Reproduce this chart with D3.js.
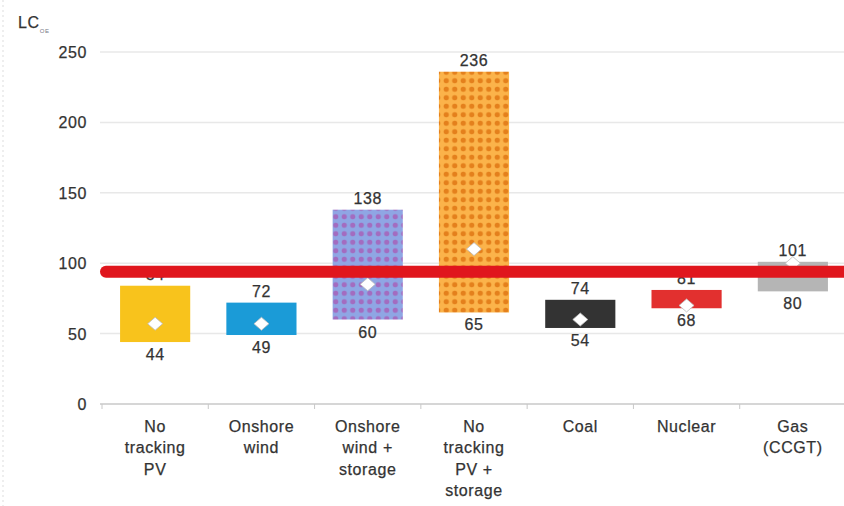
<!DOCTYPE html>
<html><head><meta charset="utf-8">
<script src="https://cdn.jsdelivr.net/npm/d3@7"></script>
<style>body{margin:0;background:#fff}svg{display:block}text{font-family:"Liberation Sans",Arial,sans-serif;letter-spacing:0.6px}</style>
</head><body><svg id="c" width="844" height="506"></svg>
<script>
const categories = [["No","tracking","PV"],["Onshore","wind"],["Onshore","wind +","storage"],["No","tracking","PV +","storage"],["Coal"],["Nuclear"],["Gas","(CCGT)"]];
const lowValues = [44, 49, 60, 65, 54, 68, 80];
const highValues = [84, 72, 138, 236, 74, 81, 101];
const midValues = [57, 57, 85, 110, 60, 70, 100];
const yTicks = [0, 50, 100, 150, 200, 250];
const refValue = 94;
const fills = ["#f8c31c", "#1b9bd7", "url(#dotsPurple)", "url(#dotsOrange)", "#333333", "#e2302f", "#b5b5b5"];

const svg = d3.select("#c");
const defs = svg.append("defs");
function dots(id, bg, dot){
  const p = defs.append("pattern").attr("id", id).attr("patternUnits","userSpaceOnUse").attr("width",8.5).attr("height",8.5);
  p.append("rect").attr("width",8.5).attr("height",8.5).attr("fill",bg);
  p.append("circle").attr("cx",4.25).attr("cy",4.25).attr("r",2.6).attr("fill",dot);
}
dots("dotsPurple", "#8fa6e4", "#a36cc0");
dots("dotsOrange", "#fbb34a", "#e4801c");

const x = d3.scaleBand().domain(d3.range(categories.length)).range([102, 846]).paddingInner(0.34).paddingOuter(0.17);
const y = d3.scaleLinear().domain([0, 250]).range([404, 52]);

svg.append("line").attr("x1",3).attr("x2",3).attr("y1",0).attr("y2",506).attr("stroke","#ddd").attr("stroke-dasharray","2,3");

svg.append("g").selectAll("line").data(yTicks.filter(d=>d>0)).join("line")
  .attr("x1",100).attr("x2",844).attr("y1",d=>y(d)).attr("y2",d=>y(d))
  .attr("stroke","#e8e8e8").attr("stroke-width",1.5);

const txt = sel => sel.attr("font-size",16).attr("fill","#333").attr("stroke","#333").attr("stroke-width",0.25);

svg.append("g").selectAll("text").data(yTicks).join("text")
  .attr("x",87).attr("y",d=>y(d)+6).attr("text-anchor","end").call(txt).text(d=>d);

const xa = svg.append("g").attr("transform","translate(0,404)")
  .call(d3.axisBottom(x).tickSize(0).tickFormat(""));
xa.select(".domain").attr("stroke","#c8c8c8").attr("stroke-width",1.5).attr("d","M100,0H844");
const bounds = d3.range(categories.length+1).map(i=>102 + i*x.step());
xa.selectAll("line.b").data(bounds).join("line").attr("class","b")
  .attr("x1",d=>d).attr("x2",d=>d).attr("y1",0).attr("y2",5).attr("stroke","#c8c8c8");

const cl = svg.append("g").selectAll("text").data(categories).join("text")
  .attr("text-anchor","middle").call(txt);
cl.each(function(lines,i){
  d3.select(this).selectAll("tspan").data(lines).join("tspan")
    .attr("x", x(i)+x.bandwidth()/2).attr("y",(d,j)=>432 + j*21.3).text(d=>d);
});

svg.append("g").selectAll("rect").data(categories).join("rect")
  .attr("x",(d,i)=>x(i)).attr("width",x.bandwidth())
  .attr("y",(d,i)=>y(highValues[i])).attr("height",(d,i)=>y(lowValues[i])-y(highValues[i]))
  .attr("fill",(d,i)=>fills[i]);

svg.append("g").selectAll("text").data(highValues).join("text")
  .attr("x",(d,i)=>x(i)+x.bandwidth()/2).attr("y",d=>y(d)-6).attr("text-anchor","middle")
  .call(txt).text(d=>d);
svg.append("g").selectAll("text").data(lowValues).join("text")
  .attr("x",(d,i)=>x(i)+x.bandwidth()/2).attr("y",d=>y(d)+18).attr("text-anchor","middle")
  .call(txt).text(d=>d);

svg.append("g").selectAll("path").data(midValues).join("path")
  .attr("transform",(d,i)=>`translate(${x(i)+x.bandwidth()/2},${y(d)})`)
  .attr("d","M0,-6.5L7.5,0L0,6.5L-7.5,0Z").attr("fill","#fff").attr("stroke","#bbb").attr("stroke-width",0.8);

svg.append("line").attr("x1",106).attr("x2",850).attr("y1",y(refValue)).attr("y2",y(refValue))
  .attr("stroke","#e0161d").attr("stroke-width",12).attr("stroke-linecap","round");

const t = svg.append("text").attr("x",18).attr("y",28).call(txt);
t.append("tspan").text("LC");
t.append("tspan").attr("font-size",6).attr("dy",5).attr("fill","#778").attr("stroke","none").text("OE");
</script></body></html>
